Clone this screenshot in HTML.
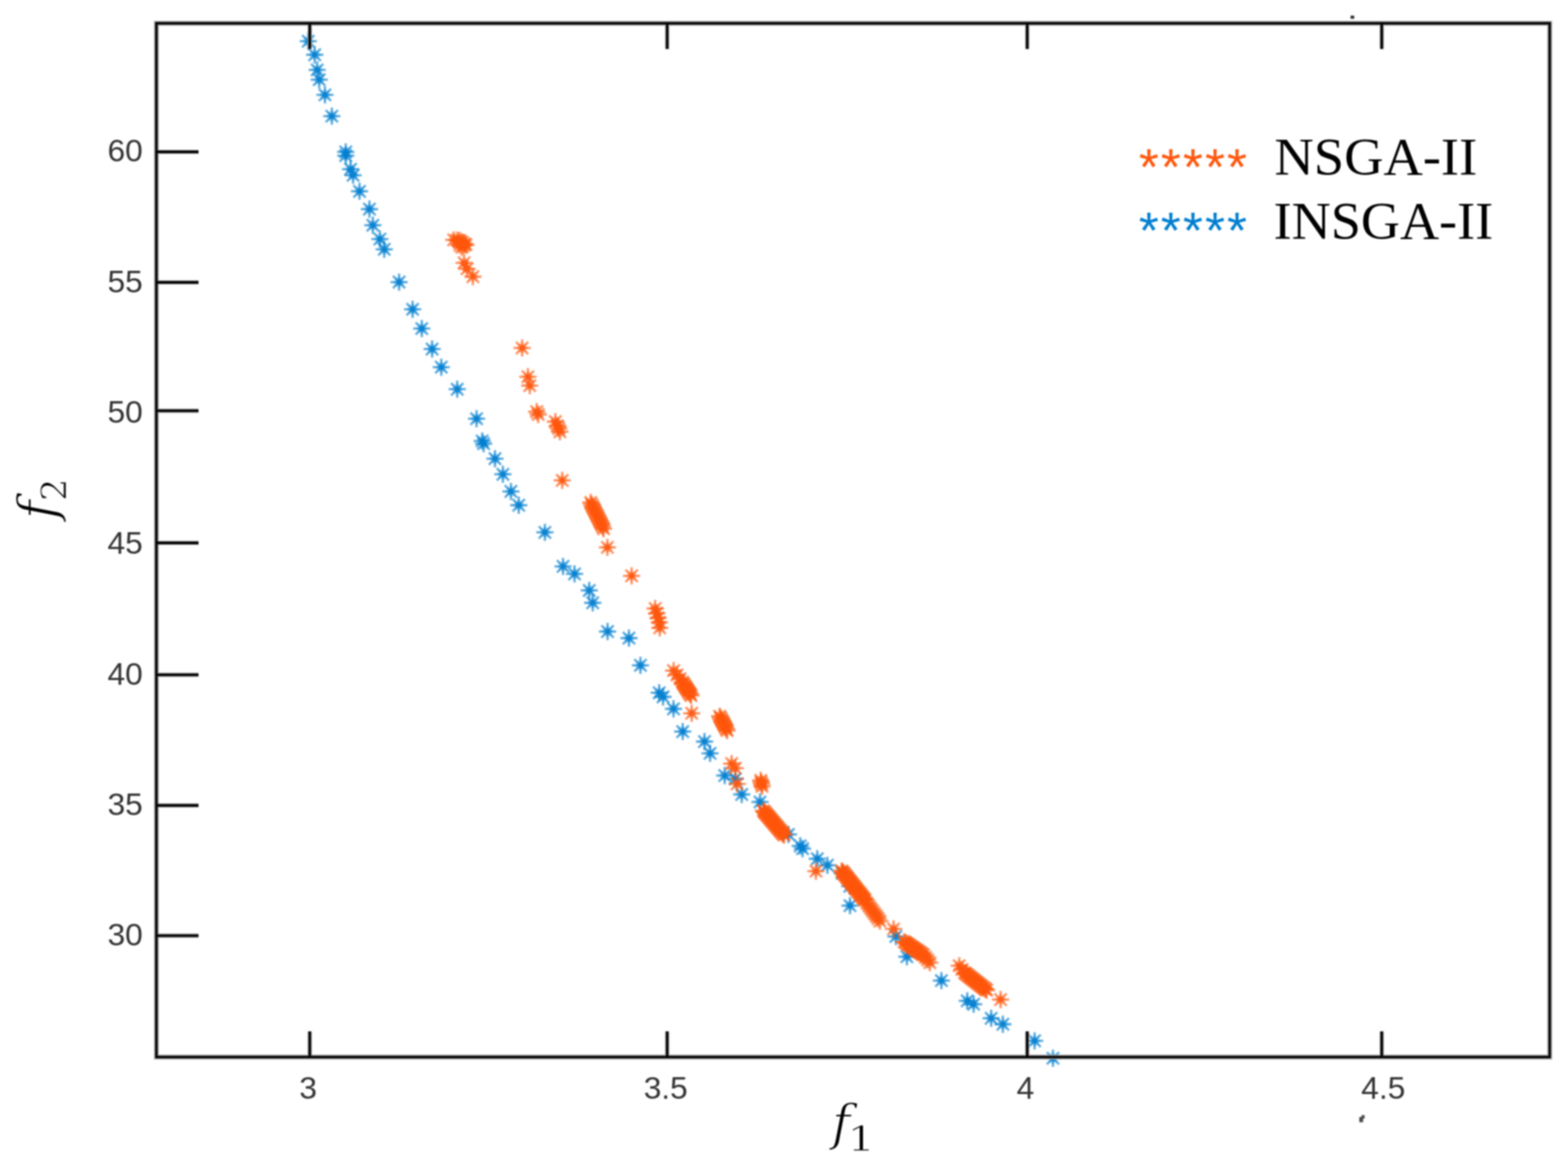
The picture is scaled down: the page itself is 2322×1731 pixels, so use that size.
<!DOCTYPE html>
<html lang="en">
<head>
<meta charset="utf-8">
<style>
html,body{margin:0;padding:0;background:#fff;}
body{width:2322px;height:1731px;overflow:hidden;}
svg{display:block;filter:blur(0.8px);}
.tick{font-family:"Liberation Sans",sans-serif;font-size:47px;fill:#333;}
.leg{font-family:"Liberation Serif",serif;font-size:78px;fill:#000;}
.ast{font-family:"Liberation Sans",sans-serif;font-size:76px;letter-spacing:3.1px;}
.ax{font-family:"DejaVu Serif",serif;font-style:italic;fill:#000;stroke:#fff;stroke-width:1.4px;}
.sub{font-family:"DejaVu Serif",serif;fill:#000;stroke:#fff;stroke-width:1.2px;}
.mk path{stroke-width:3.6px;fill:none;}
.mk .a{stroke-opacity:0.6;}
.mk .b{stroke-opacity:0.45;}
.mk circle{stroke:none;fill-opacity:0.8;}
</style>
</head>
<body>
<svg width="2322" height="1731" viewBox="0 0 2322 1731">
<rect width="2322" height="1731" fill="#fff"/>
<g class="mk" stroke="#007ed0" fill="#007ed0">
<g transform="translate(456.5 61.0)"><path class="a" d="M-12.8 0H12.8M0-12.8V12.8M-9.1-9.1L9.1 9.1M-9.1 9.1L9.1-9.1"/><path class="b" d="M-8 0H8M0-8V8M-5.7-5.7L5.7 5.7M-5.7 5.7L5.7-5.7"/><circle r="4"/></g>
<g transform="translate(466.0 81.1)"><path class="a" d="M-12.8 0H12.8M0-12.8V12.8M-9.1-9.1L9.1 9.1M-9.1 9.1L9.1-9.1"/><path class="b" d="M-8 0H8M0-8V8M-5.7-5.7L5.7 5.7M-5.7 5.7L5.7-5.7"/><circle r="4"/></g>
<g transform="translate(469.7 103.5)"><path class="a" d="M-12.8 0H12.8M0-12.8V12.8M-9.1-9.1L9.1 9.1M-9.1 9.1L9.1-9.1"/><path class="b" d="M-8 0H8M0-8V8M-5.7-5.7L5.7 5.7M-5.7 5.7L5.7-5.7"/><circle r="4"/></g>
<g transform="translate(472.7 118.0)"><path class="a" d="M-12.8 0H12.8M0-12.8V12.8M-9.1-9.1L9.1 9.1M-9.1 9.1L9.1-9.1"/><path class="b" d="M-8 0H8M0-8V8M-5.7-5.7L5.7 5.7M-5.7 5.7L5.7-5.7"/><circle r="4"/></g>
<g transform="translate(481.2 140.5)"><path class="a" d="M-12.8 0H12.8M0-12.8V12.8M-9.1-9.1L9.1 9.1M-9.1 9.1L9.1-9.1"/><path class="b" d="M-8 0H8M0-8V8M-5.7-5.7L5.7 5.7M-5.7 5.7L5.7-5.7"/><circle r="4"/></g>
<g transform="translate(491.4 172.0)"><path class="a" d="M-12.8 0H12.8M0-12.8V12.8M-9.1-9.1L9.1 9.1M-9.1 9.1L9.1-9.1"/><path class="b" d="M-8 0H8M0-8V8M-5.7-5.7L5.7 5.7M-5.7 5.7L5.7-5.7"/><circle r="4"/></g>
<g transform="translate(512.0 225.0)"><path class="a" d="M-12.8 0H12.8M0-12.8V12.8M-9.1-9.1L9.1 9.1M-9.1 9.1L9.1-9.1"/><path class="b" d="M-8 0H8M0-8V8M-5.7-5.7L5.7 5.7M-5.7 5.7L5.7-5.7"/><circle r="4"/></g>
<g transform="translate(512.0 230.5)"><path class="a" d="M-12.8 0H12.8M0-12.8V12.8M-9.1-9.1L9.1 9.1M-9.1 9.1L9.1-9.1"/><path class="b" d="M-8 0H8M0-8V8M-5.7-5.7L5.7 5.7M-5.7 5.7L5.7-5.7"/><circle r="4"/></g>
<g transform="translate(519.2 250.5)"><path class="a" d="M-12.8 0H12.8M0-12.8V12.8M-9.1-9.1L9.1 9.1M-9.1 9.1L9.1-9.1"/><path class="b" d="M-8 0H8M0-8V8M-5.7-5.7L5.7 5.7M-5.7 5.7L5.7-5.7"/><circle r="4"/></g>
<g transform="translate(522.9 259.5)"><path class="a" d="M-12.8 0H12.8M0-12.8V12.8M-9.1-9.1L9.1 9.1M-9.1 9.1L9.1-9.1"/><path class="b" d="M-8 0H8M0-8V8M-5.7-5.7L5.7 5.7M-5.7 5.7L5.7-5.7"/><circle r="4"/></g>
<g transform="translate(532.4 283.3)"><path class="a" d="M-12.8 0H12.8M0-12.8V12.8M-9.1-9.1L9.1 9.1M-9.1 9.1L9.1-9.1"/><path class="b" d="M-8 0H8M0-8V8M-5.7-5.7L5.7 5.7M-5.7 5.7L5.7-5.7"/><circle r="4"/></g>
<g transform="translate(547.1 309.6)"><path class="a" d="M-12.8 0H12.8M0-12.8V12.8M-9.1-9.1L9.1 9.1M-9.1 9.1L9.1-9.1"/><path class="b" d="M-8 0H8M0-8V8M-5.7-5.7L5.7 5.7M-5.7 5.7L5.7-5.7"/><circle r="4"/></g>
<g transform="translate(552.1 333.5)"><path class="a" d="M-12.8 0H12.8M0-12.8V12.8M-9.1-9.1L9.1 9.1M-9.1 9.1L9.1-9.1"/><path class="b" d="M-8 0H8M0-8V8M-5.7-5.7L5.7 5.7M-5.7 5.7L5.7-5.7"/><circle r="4"/></g>
<g transform="translate(562.6 354.0)"><path class="a" d="M-12.8 0H12.8M0-12.8V12.8M-9.1-9.1L9.1 9.1M-9.1 9.1L9.1-9.1"/><path class="b" d="M-8 0H8M0-8V8M-5.7-5.7L5.7 5.7M-5.7 5.7L5.7-5.7"/><circle r="4"/></g>
<g transform="translate(569.0 369.2)"><path class="a" d="M-12.8 0H12.8M0-12.8V12.8M-9.1-9.1L9.1 9.1M-9.1 9.1L9.1-9.1"/><path class="b" d="M-8 0H8M0-8V8M-5.7-5.7L5.7 5.7M-5.7 5.7L5.7-5.7"/><circle r="4"/></g>
<g transform="translate(591.0 417.7)"><path class="a" d="M-12.8 0H12.8M0-12.8V12.8M-9.1-9.1L9.1 9.1M-9.1 9.1L9.1-9.1"/><path class="b" d="M-8 0H8M0-8V8M-5.7-5.7L5.7 5.7M-5.7 5.7L5.7-5.7"/><circle r="4"/></g>
<g transform="translate(611.0 458.0)"><path class="a" d="M-12.8 0H12.8M0-12.8V12.8M-9.1-9.1L9.1 9.1M-9.1 9.1L9.1-9.1"/><path class="b" d="M-8 0H8M0-8V8M-5.7-5.7L5.7 5.7M-5.7 5.7L5.7-5.7"/><circle r="4"/></g>
<g transform="translate(624.6 486.5)"><path class="a" d="M-12.8 0H12.8M0-12.8V12.8M-9.1-9.1L9.1 9.1M-9.1 9.1L9.1-9.1"/><path class="b" d="M-8 0H8M0-8V8M-5.7-5.7L5.7 5.7M-5.7 5.7L5.7-5.7"/><circle r="4"/></g>
<g transform="translate(639.9 516.8)"><path class="a" d="M-12.8 0H12.8M0-12.8V12.8M-9.1-9.1L9.1 9.1M-9.1 9.1L9.1-9.1"/><path class="b" d="M-8 0H8M0-8V8M-5.7-5.7L5.7 5.7M-5.7 5.7L5.7-5.7"/><circle r="4"/></g>
<g transform="translate(653.5 543.7)"><path class="a" d="M-12.8 0H12.8M0-12.8V12.8M-9.1-9.1L9.1 9.1M-9.1 9.1L9.1-9.1"/><path class="b" d="M-8 0H8M0-8V8M-5.7-5.7L5.7 5.7M-5.7 5.7L5.7-5.7"/><circle r="4"/></g>
<g transform="translate(677.1 576.3)"><path class="a" d="M-12.8 0H12.8M0-12.8V12.8M-9.1-9.1L9.1 9.1M-9.1 9.1L9.1-9.1"/><path class="b" d="M-8 0H8M0-8V8M-5.7-5.7L5.7 5.7M-5.7 5.7L5.7-5.7"/><circle r="4"/></g>
<g transform="translate(705.7 620.0)"><path class="a" d="M-12.8 0H12.8M0-12.8V12.8M-9.1-9.1L9.1 9.1M-9.1 9.1L9.1-9.1"/><path class="b" d="M-8 0H8M0-8V8M-5.7-5.7L5.7 5.7M-5.7 5.7L5.7-5.7"/><circle r="4"/></g>
<g transform="translate(714.1 653.0)"><path class="a" d="M-12.8 0H12.8M0-12.8V12.8M-9.1-9.1L9.1 9.1M-9.1 9.1L9.1-9.1"/><path class="b" d="M-8 0H8M0-8V8M-5.7-5.7L5.7 5.7M-5.7 5.7L5.7-5.7"/><circle r="4"/></g>
<g transform="translate(716.2 657.0)"><path class="a" d="M-12.8 0H12.8M0-12.8V12.8M-9.1-9.1L9.1 9.1M-9.1 9.1L9.1-9.1"/><path class="b" d="M-8 0H8M0-8V8M-5.7-5.7L5.7 5.7M-5.7 5.7L5.7-5.7"/><circle r="4"/></g>
<g transform="translate(733.0 679.2)"><path class="a" d="M-12.8 0H12.8M0-12.8V12.8M-9.1-9.1L9.1 9.1M-9.1 9.1L9.1-9.1"/><path class="b" d="M-8 0H8M0-8V8M-5.7-5.7L5.7 5.7M-5.7 5.7L5.7-5.7"/><circle r="4"/></g>
<g transform="translate(744.7 702.3)"><path class="a" d="M-12.8 0H12.8M0-12.8V12.8M-9.1-9.1L9.1 9.1M-9.1 9.1L9.1-9.1"/><path class="b" d="M-8 0H8M0-8V8M-5.7-5.7L5.7 5.7M-5.7 5.7L5.7-5.7"/><circle r="4"/></g>
<g transform="translate(756.6 727.7)"><path class="a" d="M-12.8 0H12.8M0-12.8V12.8M-9.1-9.1L9.1 9.1M-9.1 9.1L9.1-9.1"/><path class="b" d="M-8 0H8M0-8V8M-5.7-5.7L5.7 5.7M-5.7 5.7L5.7-5.7"/><circle r="4"/></g>
<g transform="translate(768.2 748.1)"><path class="a" d="M-12.8 0H12.8M0-12.8V12.8M-9.1-9.1L9.1 9.1M-9.1 9.1L9.1-9.1"/><path class="b" d="M-8 0H8M0-8V8M-5.7-5.7L5.7 5.7M-5.7 5.7L5.7-5.7"/><circle r="4"/></g>
<g transform="translate(806.9 788.3)"><path class="a" d="M-12.8 0H12.8M0-12.8V12.8M-9.1-9.1L9.1 9.1M-9.1 9.1L9.1-9.1"/><path class="b" d="M-8 0H8M0-8V8M-5.7-5.7L5.7 5.7M-5.7 5.7L5.7-5.7"/><circle r="4"/></g>
<g transform="translate(833.8 838.7)"><path class="a" d="M-12.8 0H12.8M0-12.8V12.8M-9.1-9.1L9.1 9.1M-9.1 9.1L9.1-9.1"/><path class="b" d="M-8 0H8M0-8V8M-5.7-5.7L5.7 5.7M-5.7 5.7L5.7-5.7"/><circle r="4"/></g>
<g transform="translate(850.8 849.8)"><path class="a" d="M-12.8 0H12.8M0-12.8V12.8M-9.1-9.1L9.1 9.1M-9.1 9.1L9.1-9.1"/><path class="b" d="M-8 0H8M0-8V8M-5.7-5.7L5.7 5.7M-5.7 5.7L5.7-5.7"/><circle r="4"/></g>
<g transform="translate(872.6 874.3)"><path class="a" d="M-12.8 0H12.8M0-12.8V12.8M-9.1-9.1L9.1 9.1M-9.1 9.1L9.1-9.1"/><path class="b" d="M-8 0H8M0-8V8M-5.7-5.7L5.7 5.7M-5.7 5.7L5.7-5.7"/><circle r="4"/></g>
<g transform="translate(877.7 892.6)"><path class="a" d="M-12.8 0H12.8M0-12.8V12.8M-9.1-9.1L9.1 9.1M-9.1 9.1L9.1-9.1"/><path class="b" d="M-8 0H8M0-8V8M-5.7-5.7L5.7 5.7M-5.7 5.7L5.7-5.7"/><circle r="4"/></g>
<g transform="translate(899.7 935.1)"><path class="a" d="M-12.8 0H12.8M0-12.8V12.8M-9.1-9.1L9.1 9.1M-9.1 9.1L9.1-9.1"/><path class="b" d="M-8 0H8M0-8V8M-5.7-5.7L5.7 5.7M-5.7 5.7L5.7-5.7"/><circle r="4"/></g>
<g transform="translate(931.4 944.9)"><path class="a" d="M-12.8 0H12.8M0-12.8V12.8M-9.1-9.1L9.1 9.1M-9.1 9.1L9.1-9.1"/><path class="b" d="M-8 0H8M0-8V8M-5.7-5.7L5.7 5.7M-5.7 5.7L5.7-5.7"/><circle r="4"/></g>
<g transform="translate(948.4 985.2)"><path class="a" d="M-12.8 0H12.8M0-12.8V12.8M-9.1-9.1L9.1 9.1M-9.1 9.1L9.1-9.1"/><path class="b" d="M-8 0H8M0-8V8M-5.7-5.7L5.7 5.7M-5.7 5.7L5.7-5.7"/><circle r="4"/></g>
<g transform="translate(976.2 1025.8)"><path class="a" d="M-12.8 0H12.8M0-12.8V12.8M-9.1-9.1L9.1 9.1M-9.1 9.1L9.1-9.1"/><path class="b" d="M-8 0H8M0-8V8M-5.7-5.7L5.7 5.7M-5.7 5.7L5.7-5.7"/><circle r="4"/></g>
<g transform="translate(981.9 1031.9)"><path class="a" d="M-12.8 0H12.8M0-12.8V12.8M-9.1-9.1L9.1 9.1M-9.1 9.1L9.1-9.1"/><path class="b" d="M-8 0H8M0-8V8M-5.7-5.7L5.7 5.7M-5.7 5.7L5.7-5.7"/><circle r="4"/></g>
<g transform="translate(997.4 1049.6)"><path class="a" d="M-12.8 0H12.8M0-12.8V12.8M-9.1-9.1L9.1 9.1M-9.1 9.1L9.1-9.1"/><path class="b" d="M-8 0H8M0-8V8M-5.7-5.7L5.7 5.7M-5.7 5.7L5.7-5.7"/><circle r="4"/></g>
<g transform="translate(1011.0 1083.3)"><path class="a" d="M-12.8 0H12.8M0-12.8V12.8M-9.1-9.1L9.1 9.1M-9.1 9.1L9.1-9.1"/><path class="b" d="M-8 0H8M0-8V8M-5.7-5.7L5.7 5.7M-5.7 5.7L5.7-5.7"/><circle r="4"/></g>
<g transform="translate(1043.3 1098.1)"><path class="a" d="M-12.8 0H12.8M0-12.8V12.8M-9.1-9.1L9.1 9.1M-9.1 9.1L9.1-9.1"/><path class="b" d="M-8 0H8M0-8V8M-5.7-5.7L5.7 5.7M-5.7 5.7L5.7-5.7"/><circle r="4"/></g>
<g transform="translate(1051.5 1115.5)"><path class="a" d="M-12.8 0H12.8M0-12.8V12.8M-9.1-9.1L9.1 9.1M-9.1 9.1L9.1-9.1"/><path class="b" d="M-8 0H8M0-8V8M-5.7-5.7L5.7 5.7M-5.7 5.7L5.7-5.7"/><circle r="4"/></g>
<g transform="translate(1073.2 1148.4)"><path class="a" d="M-12.8 0H12.8M0-12.8V12.8M-9.1-9.1L9.1 9.1M-9.1 9.1L9.1-9.1"/><path class="b" d="M-8 0H8M0-8V8M-5.7-5.7L5.7 5.7M-5.7 5.7L5.7-5.7"/><circle r="4"/></g>
<g transform="translate(1088.9 1153.2)"><path class="a" d="M-12.8 0H12.8M0-12.8V12.8M-9.1-9.1L9.1 9.1M-9.1 9.1L9.1-9.1"/><path class="b" d="M-8 0H8M0-8V8M-5.7-5.7L5.7 5.7M-5.7 5.7L5.7-5.7"/><circle r="4"/></g>
<g transform="translate(1098.4 1176.4)"><path class="a" d="M-12.8 0H12.8M0-12.8V12.8M-9.1-9.1L9.1 9.1M-9.1 9.1L9.1-9.1"/><path class="b" d="M-8 0H8M0-8V8M-5.7-5.7L5.7 5.7M-5.7 5.7L5.7-5.7"/><circle r="4"/></g>
<g transform="translate(1125.5 1187.5)"><path class="a" d="M-12.8 0H12.8M0-12.8V12.8M-9.1-9.1L9.1 9.1M-9.1 9.1L9.1-9.1"/><path class="b" d="M-8 0H8M0-8V8M-5.7-5.7L5.7 5.7M-5.7 5.7L5.7-5.7"/><circle r="4"/></g>
<g transform="translate(1167.5 1235.5)"><path class="a" d="M-12.8 0H12.8M0-12.8V12.8M-9.1-9.1L9.1 9.1M-9.1 9.1L9.1-9.1"/><path class="b" d="M-8 0H8M0-8V8M-5.7-5.7L5.7 5.7M-5.7 5.7L5.7-5.7"/><circle r="4"/></g>
<g transform="translate(1185.1 1252.6)"><path class="a" d="M-12.8 0H12.8M0-12.8V12.8M-9.1-9.1L9.1 9.1M-9.1 9.1L9.1-9.1"/><path class="b" d="M-8 0H8M0-8V8M-5.7-5.7L5.7 5.7M-5.7 5.7L5.7-5.7"/><circle r="4"/></g>
<g transform="translate(1188.5 1256.6)"><path class="a" d="M-12.8 0H12.8M0-12.8V12.8M-9.1-9.1L9.1 9.1M-9.1 9.1L9.1-9.1"/><path class="b" d="M-8 0H8M0-8V8M-5.7-5.7L5.7 5.7M-5.7 5.7L5.7-5.7"/><circle r="4"/></g>
<g transform="translate(1210.3 1271.6)"><path class="a" d="M-12.8 0H12.8M0-12.8V12.8M-9.1-9.1L9.1 9.1M-9.1 9.1L9.1-9.1"/><path class="b" d="M-8 0H8M0-8V8M-5.7-5.7L5.7 5.7M-5.7 5.7L5.7-5.7"/><circle r="4"/></g>
<g transform="translate(1225.3 1281.2)"><path class="a" d="M-12.8 0H12.8M0-12.8V12.8M-9.1-9.1L9.1 9.1M-9.1 9.1L9.1-9.1"/><path class="b" d="M-8 0H8M0-8V8M-5.7-5.7L5.7 5.7M-5.7 5.7L5.7-5.7"/><circle r="4"/></g>
<g transform="translate(1247.0 1293.0)"><path class="a" d="M-12.8 0H12.8M0-12.8V12.8M-9.1-9.1L9.1 9.1M-9.1 9.1L9.1-9.1"/><path class="b" d="M-8 0H8M0-8V8M-5.7-5.7L5.7 5.7M-5.7 5.7L5.7-5.7"/><circle r="4"/></g>
<g transform="translate(1258.4 1312.3)"><path class="a" d="M-12.8 0H12.8M0-12.8V12.8M-9.1-9.1L9.1 9.1M-9.1 9.1L9.1-9.1"/><path class="b" d="M-8 0H8M0-8V8M-5.7-5.7L5.7 5.7M-5.7 5.7L5.7-5.7"/><circle r="4"/></g>
<g transform="translate(1258.7 1341.0)"><path class="a" d="M-12.8 0H12.8M0-12.8V12.8M-9.1-9.1L9.1 9.1M-9.1 9.1L9.1-9.1"/><path class="b" d="M-8 0H8M0-8V8M-5.7-5.7L5.7 5.7M-5.7 5.7L5.7-5.7"/><circle r="4"/></g>
<g transform="translate(1326.7 1386.7)"><path class="a" d="M-12.8 0H12.8M0-12.8V12.8M-9.1-9.1L9.1 9.1M-9.1 9.1L9.1-9.1"/><path class="b" d="M-8 0H8M0-8V8M-5.7-5.7L5.7 5.7M-5.7 5.7L5.7-5.7"/><circle r="4"/></g>
<g transform="translate(1343.0 1416.6)"><path class="a" d="M-12.8 0H12.8M0-12.8V12.8M-9.1-9.1L9.1 9.1M-9.1 9.1L9.1-9.1"/><path class="b" d="M-8 0H8M0-8V8M-5.7-5.7L5.7 5.7M-5.7 5.7L5.7-5.7"/><circle r="4"/></g>
<g transform="translate(1394.1 1452.0)"><path class="a" d="M-12.8 0H12.8M0-12.8V12.8M-9.1-9.1L9.1 9.1M-9.1 9.1L9.1-9.1"/><path class="b" d="M-8 0H8M0-8V8M-5.7-5.7L5.7 5.7M-5.7 5.7L5.7-5.7"/><circle r="4"/></g>
<g transform="translate(1432.4 1482.0)"><path class="a" d="M-12.8 0H12.8M0-12.8V12.8M-9.1-9.1L9.1 9.1M-9.1 9.1L9.1-9.1"/><path class="b" d="M-8 0H8M0-8V8M-5.7-5.7L5.7 5.7M-5.7 5.7L5.7-5.7"/><circle r="4"/></g>
<g transform="translate(1441.8 1487.0)"><path class="a" d="M-12.8 0H12.8M0-12.8V12.8M-9.1-9.1L9.1 9.1M-9.1 9.1L9.1-9.1"/><path class="b" d="M-8 0H8M0-8V8M-5.7-5.7L5.7 5.7M-5.7 5.7L5.7-5.7"/><circle r="4"/></g>
<g transform="translate(1467.8 1507.8)"><path class="a" d="M-12.8 0H12.8M0-12.8V12.8M-9.1-9.1L9.1 9.1M-9.1 9.1L9.1-9.1"/><path class="b" d="M-8 0H8M0-8V8M-5.7-5.7L5.7 5.7M-5.7 5.7L5.7-5.7"/><circle r="4"/></g>
<g transform="translate(1485.1 1516.6)"><path class="a" d="M-12.8 0H12.8M0-12.8V12.8M-9.1-9.1L9.1 9.1M-9.1 9.1L9.1-9.1"/><path class="b" d="M-8 0H8M0-8V8M-5.7-5.7L5.7 5.7M-5.7 5.7L5.7-5.7"/><circle r="4"/></g>
<g transform="translate(1532.1 1541.2)"><path class="a" d="M-12.8 0H12.8M0-12.8V12.8M-9.1-9.1L9.1 9.1M-9.1 9.1L9.1-9.1"/><path class="b" d="M-8 0H8M0-8V8M-5.7-5.7L5.7 5.7M-5.7 5.7L5.7-5.7"/><circle r="4"/></g>
<g transform="translate(1559.3 1567.0)"><path class="a" d="M-12.8 0H12.8M0-12.8V12.8M-9.1-9.1L9.1 9.1M-9.1 9.1L9.1-9.1"/><path class="b" d="M-8 0H8M0-8V8M-5.7-5.7L5.7 5.7M-5.7 5.7L5.7-5.7"/><circle r="4"/></g>
</g>
<g class="mk" stroke="#ff560c" fill="#ff560c">
<g transform="translate(671.9 355.2)"><path class="a" d="M-12.8 0H12.8M0-12.8V12.8M-9.1-9.1L9.1 9.1M-9.1 9.1L9.1-9.1"/><path class="b" d="M-8 0H8M0-8V8M-5.7-5.7L5.7 5.7M-5.7 5.7L5.7-5.7"/><circle r="4"/></g>
<g transform="translate(677.0 355.5)"><path class="a" d="M-12.8 0H12.8M0-12.8V12.8M-9.1-9.1L9.1 9.1M-9.1 9.1L9.1-9.1"/><path class="b" d="M-8 0H8M0-8V8M-5.7-5.7L5.7 5.7M-5.7 5.7L5.7-5.7"/><circle r="4"/></g>
<g transform="translate(680.7 356.0)"><path class="a" d="M-12.8 0H12.8M0-12.8V12.8M-9.1-9.1L9.1 9.1M-9.1 9.1L9.1-9.1"/><path class="b" d="M-8 0H8M0-8V8M-5.7-5.7L5.7 5.7M-5.7 5.7L5.7-5.7"/><circle r="4"/></g>
<g transform="translate(684.5 358.5)"><path class="a" d="M-12.8 0H12.8M0-12.8V12.8M-9.1-9.1L9.1 9.1M-9.1 9.1L9.1-9.1"/><path class="b" d="M-8 0H8M0-8V8M-5.7-5.7L5.7 5.7M-5.7 5.7L5.7-5.7"/><circle r="4"/></g>
<g transform="translate(688.0 361.0)"><path class="a" d="M-12.8 0H12.8M0-12.8V12.8M-9.1-9.1L9.1 9.1M-9.1 9.1L9.1-9.1"/><path class="b" d="M-8 0H8M0-8V8M-5.7-5.7L5.7 5.7M-5.7 5.7L5.7-5.7"/><circle r="4"/></g>
<g transform="translate(690.0 362.5)"><path class="a" d="M-12.8 0H12.8M0-12.8V12.8M-9.1-9.1L9.1 9.1M-9.1 9.1L9.1-9.1"/><path class="b" d="M-8 0H8M0-8V8M-5.7-5.7L5.7 5.7M-5.7 5.7L5.7-5.7"/><circle r="4"/></g>
<g transform="translate(681.0 363.0)"><path class="a" d="M-12.8 0H12.8M0-12.8V12.8M-9.1-9.1L9.1 9.1M-9.1 9.1L9.1-9.1"/><path class="b" d="M-8 0H8M0-8V8M-5.7-5.7L5.7 5.7M-5.7 5.7L5.7-5.7"/><circle r="4"/></g>
<g transform="translate(684.0 366.0)"><path class="a" d="M-12.8 0H12.8M0-12.8V12.8M-9.1-9.1L9.1 9.1M-9.1 9.1L9.1-9.1"/><path class="b" d="M-8 0H8M0-8V8M-5.7-5.7L5.7 5.7M-5.7 5.7L5.7-5.7"/><circle r="4"/></g>
<g transform="translate(686.5 363.5)"><path class="a" d="M-12.8 0H12.8M0-12.8V12.8M-9.1-9.1L9.1 9.1M-9.1 9.1L9.1-9.1"/><path class="b" d="M-8 0H8M0-8V8M-5.7-5.7L5.7 5.7M-5.7 5.7L5.7-5.7"/><circle r="4"/></g>
<g transform="translate(687.3 389.2)"><path class="a" d="M-12.8 0H12.8M0-12.8V12.8M-9.1-9.1L9.1 9.1M-9.1 9.1L9.1-9.1"/><path class="b" d="M-8 0H8M0-8V8M-5.7-5.7L5.7 5.7M-5.7 5.7L5.7-5.7"/><circle r="4"/></g>
<g transform="translate(691.6 398.0)"><path class="a" d="M-12.8 0H12.8M0-12.8V12.8M-9.1-9.1L9.1 9.1M-9.1 9.1L9.1-9.1"/><path class="b" d="M-8 0H8M0-8V8M-5.7-5.7L5.7 5.7M-5.7 5.7L5.7-5.7"/><circle r="4"/></g>
<g transform="translate(700.3 409.6)"><path class="a" d="M-12.8 0H12.8M0-12.8V12.8M-9.1-9.1L9.1 9.1M-9.1 9.1L9.1-9.1"/><path class="b" d="M-8 0H8M0-8V8M-5.7-5.7L5.7 5.7M-5.7 5.7L5.7-5.7"/><circle r="4"/></g>
<g transform="translate(773.2 515.3)"><path class="a" d="M-12.8 0H12.8M0-12.8V12.8M-9.1-9.1L9.1 9.1M-9.1 9.1L9.1-9.1"/><path class="b" d="M-8 0H8M0-8V8M-5.7-5.7L5.7 5.7M-5.7 5.7L5.7-5.7"/><circle r="4"/></g>
<g transform="translate(781.8 557.9)"><path class="a" d="M-12.8 0H12.8M0-12.8V12.8M-9.1-9.1L9.1 9.1M-9.1 9.1L9.1-9.1"/><path class="b" d="M-8 0H8M0-8V8M-5.7-5.7L5.7 5.7M-5.7 5.7L5.7-5.7"/><circle r="4"/></g>
<g transform="translate(784.5 571.0)"><path class="a" d="M-12.8 0H12.8M0-12.8V12.8M-9.1-9.1L9.1 9.1M-9.1 9.1L9.1-9.1"/><path class="b" d="M-8 0H8M0-8V8M-5.7-5.7L5.7 5.7M-5.7 5.7L5.7-5.7"/><circle r="4"/></g>
<g transform="translate(794.8 609.6)"><path class="a" d="M-12.8 0H12.8M0-12.8V12.8M-9.1-9.1L9.1 9.1M-9.1 9.1L9.1-9.1"/><path class="b" d="M-8 0H8M0-8V8M-5.7-5.7L5.7 5.7M-5.7 5.7L5.7-5.7"/><circle r="4"/></g>
<g transform="translate(797.0 613.6)"><path class="a" d="M-12.8 0H12.8M0-12.8V12.8M-9.1-9.1L9.1 9.1M-9.1 9.1L9.1-9.1"/><path class="b" d="M-8 0H8M0-8V8M-5.7-5.7L5.7 5.7M-5.7 5.7L5.7-5.7"/><circle r="4"/></g>
<g transform="translate(822.4 624.4)"><path class="a" d="M-12.8 0H12.8M0-12.8V12.8M-9.1-9.1L9.1 9.1M-9.1 9.1L9.1-9.1"/><path class="b" d="M-8 0H8M0-8V8M-5.7-5.7L5.7 5.7M-5.7 5.7L5.7-5.7"/><circle r="4"/></g>
<g transform="translate(825.5 630.5)"><path class="a" d="M-12.8 0H12.8M0-12.8V12.8M-9.1-9.1L9.1 9.1M-9.1 9.1L9.1-9.1"/><path class="b" d="M-8 0H8M0-8V8M-5.7-5.7L5.7 5.7M-5.7 5.7L5.7-5.7"/><circle r="4"/></g>
<g transform="translate(827.5 634.5)"><path class="a" d="M-12.8 0H12.8M0-12.8V12.8M-9.1-9.1L9.1 9.1M-9.1 9.1L9.1-9.1"/><path class="b" d="M-8 0H8M0-8V8M-5.7-5.7L5.7 5.7M-5.7 5.7L5.7-5.7"/><circle r="4"/></g>
<g transform="translate(829.2 639.3)"><path class="a" d="M-12.8 0H12.8M0-12.8V12.8M-9.1-9.1L9.1 9.1M-9.1 9.1L9.1-9.1"/><path class="b" d="M-8 0H8M0-8V8M-5.7-5.7L5.7 5.7M-5.7 5.7L5.7-5.7"/><circle r="4"/></g>
<g transform="translate(832.6 711.3)"><path class="a" d="M-12.8 0H12.8M0-12.8V12.8M-9.1-9.1L9.1 9.1M-9.1 9.1L9.1-9.1"/><path class="b" d="M-8 0H8M0-8V8M-5.7-5.7L5.7 5.7M-5.7 5.7L5.7-5.7"/><circle r="4"/></g>
<g transform="translate(874.7 744.0)"><path class="a" d="M-12.8 0H12.8M0-12.8V12.8M-9.1-9.1L9.1 9.1M-9.1 9.1L9.1-9.1"/><path class="b" d="M-8 0H8M0-8V8M-5.7-5.7L5.7 5.7M-5.7 5.7L5.7-5.7"/><circle r="4"/></g>
<g transform="translate(876.2 747.0)"><path class="a" d="M-12.8 0H12.8M0-12.8V12.8M-9.1-9.1L9.1 9.1M-9.1 9.1L9.1-9.1"/><path class="b" d="M-8 0H8M0-8V8M-5.7-5.7L5.7 5.7M-5.7 5.7L5.7-5.7"/><circle r="4"/></g>
<g transform="translate(877.6 750.0)"><path class="a" d="M-12.8 0H12.8M0-12.8V12.8M-9.1-9.1L9.1 9.1M-9.1 9.1L9.1-9.1"/><path class="b" d="M-8 0H8M0-8V8M-5.7-5.7L5.7 5.7M-5.7 5.7L5.7-5.7"/><circle r="4"/></g>
<g transform="translate(879.1 753.0)"><path class="a" d="M-12.8 0H12.8M0-12.8V12.8M-9.1-9.1L9.1 9.1M-9.1 9.1L9.1-9.1"/><path class="b" d="M-8 0H8M0-8V8M-5.7-5.7L5.7 5.7M-5.7 5.7L5.7-5.7"/><circle r="4"/></g>
<g transform="translate(880.6 756.0)"><path class="a" d="M-12.8 0H12.8M0-12.8V12.8M-9.1-9.1L9.1 9.1M-9.1 9.1L9.1-9.1"/><path class="b" d="M-8 0H8M0-8V8M-5.7-5.7L5.7 5.7M-5.7 5.7L5.7-5.7"/><circle r="4"/></g>
<g transform="translate(882.0 759.0)"><path class="a" d="M-12.8 0H12.8M0-12.8V12.8M-9.1-9.1L9.1 9.1M-9.1 9.1L9.1-9.1"/><path class="b" d="M-8 0H8M0-8V8M-5.7-5.7L5.7 5.7M-5.7 5.7L5.7-5.7"/><circle r="4"/></g>
<g transform="translate(883.5 762.0)"><path class="a" d="M-12.8 0H12.8M0-12.8V12.8M-9.1-9.1L9.1 9.1M-9.1 9.1L9.1-9.1"/><path class="b" d="M-8 0H8M0-8V8M-5.7-5.7L5.7 5.7M-5.7 5.7L5.7-5.7"/><circle r="4"/></g>
<g transform="translate(885.0 765.0)"><path class="a" d="M-12.8 0H12.8M0-12.8V12.8M-9.1-9.1L9.1 9.1M-9.1 9.1L9.1-9.1"/><path class="b" d="M-8 0H8M0-8V8M-5.7-5.7L5.7 5.7M-5.7 5.7L5.7-5.7"/><circle r="4"/></g>
<g transform="translate(886.5 768.0)"><path class="a" d="M-12.8 0H12.8M0-12.8V12.8M-9.1-9.1L9.1 9.1M-9.1 9.1L9.1-9.1"/><path class="b" d="M-8 0H8M0-8V8M-5.7-5.7L5.7 5.7M-5.7 5.7L5.7-5.7"/><circle r="4"/></g>
<g transform="translate(887.9 771.0)"><path class="a" d="M-12.8 0H12.8M0-12.8V12.8M-9.1-9.1L9.1 9.1M-9.1 9.1L9.1-9.1"/><path class="b" d="M-8 0H8M0-8V8M-5.7-5.7L5.7 5.7M-5.7 5.7L5.7-5.7"/><circle r="4"/></g>
<g transform="translate(889.4 774.0)"><path class="a" d="M-12.8 0H12.8M0-12.8V12.8M-9.1-9.1L9.1 9.1M-9.1 9.1L9.1-9.1"/><path class="b" d="M-8 0H8M0-8V8M-5.7-5.7L5.7 5.7M-5.7 5.7L5.7-5.7"/><circle r="4"/></g>
<g transform="translate(890.9 777.0)"><path class="a" d="M-12.8 0H12.8M0-12.8V12.8M-9.1-9.1L9.1 9.1M-9.1 9.1L9.1-9.1"/><path class="b" d="M-8 0H8M0-8V8M-5.7-5.7L5.7 5.7M-5.7 5.7L5.7-5.7"/><circle r="4"/></g>
<g transform="translate(892.3 780.0)"><path class="a" d="M-12.8 0H12.8M0-12.8V12.8M-9.1-9.1L9.1 9.1M-9.1 9.1L9.1-9.1"/><path class="b" d="M-8 0H8M0-8V8M-5.7-5.7L5.7 5.7M-5.7 5.7L5.7-5.7"/><circle r="4"/></g>
<g transform="translate(893.8 783.0)"><path class="a" d="M-12.8 0H12.8M0-12.8V12.8M-9.1-9.1L9.1 9.1M-9.1 9.1L9.1-9.1"/><path class="b" d="M-8 0H8M0-8V8M-5.7-5.7L5.7 5.7M-5.7 5.7L5.7-5.7"/><circle r="4"/></g>
<g transform="translate(899.5 810.5)"><path class="a" d="M-12.8 0H12.8M0-12.8V12.8M-9.1-9.1L9.1 9.1M-9.1 9.1L9.1-9.1"/><path class="b" d="M-8 0H8M0-8V8M-5.7-5.7L5.7 5.7M-5.7 5.7L5.7-5.7"/><circle r="4"/></g>
<g transform="translate(935.3 852.7)"><path class="a" d="M-12.8 0H12.8M0-12.8V12.8M-9.1-9.1L9.1 9.1M-9.1 9.1L9.1-9.1"/><path class="b" d="M-8 0H8M0-8V8M-5.7-5.7L5.7 5.7M-5.7 5.7L5.7-5.7"/><circle r="4"/></g>
<g transform="translate(970.2 901.1)"><path class="a" d="M-12.8 0H12.8M0-12.8V12.8M-9.1-9.1L9.1 9.1M-9.1 9.1L9.1-9.1"/><path class="b" d="M-8 0H8M0-8V8M-5.7-5.7L5.7 5.7M-5.7 5.7L5.7-5.7"/><circle r="4"/></g>
<g transform="translate(972.5 908.0)"><path class="a" d="M-12.8 0H12.8M0-12.8V12.8M-9.1-9.1L9.1 9.1M-9.1 9.1L9.1-9.1"/><path class="b" d="M-8 0H8M0-8V8M-5.7-5.7L5.7 5.7M-5.7 5.7L5.7-5.7"/><circle r="4"/></g>
<g transform="translate(974.5 915.0)"><path class="a" d="M-12.8 0H12.8M0-12.8V12.8M-9.1-9.1L9.1 9.1M-9.1 9.1L9.1-9.1"/><path class="b" d="M-8 0H8M0-8V8M-5.7-5.7L5.7 5.7M-5.7 5.7L5.7-5.7"/><circle r="4"/></g>
<g transform="translate(976.5 921.5)"><path class="a" d="M-12.8 0H12.8M0-12.8V12.8M-9.1-9.1L9.1 9.1M-9.1 9.1L9.1-9.1"/><path class="b" d="M-8 0H8M0-8V8M-5.7-5.7L5.7 5.7M-5.7 5.7L5.7-5.7"/><circle r="4"/></g>
<g transform="translate(977.0 929.7)"><path class="a" d="M-12.8 0H12.8M0-12.8V12.8M-9.1-9.1L9.1 9.1M-9.1 9.1L9.1-9.1"/><path class="b" d="M-8 0H8M0-8V8M-5.7-5.7L5.7 5.7M-5.7 5.7L5.7-5.7"/><circle r="4"/></g>
<g transform="translate(997.5 993.0)"><path class="a" d="M-12.8 0H12.8M0-12.8V12.8M-9.1-9.1L9.1 9.1M-9.1 9.1L9.1-9.1"/><path class="b" d="M-8 0H8M0-8V8M-5.7-5.7L5.7 5.7M-5.7 5.7L5.7-5.7"/><circle r="4"/></g>
<g transform="translate(1002.5 999.5)"><path class="a" d="M-12.8 0H12.8M0-12.8V12.8M-9.1-9.1L9.1 9.1M-9.1 9.1L9.1-9.1"/><path class="b" d="M-8 0H8M0-8V8M-5.7-5.7L5.7 5.7M-5.7 5.7L5.7-5.7"/><circle r="4"/></g>
<g transform="translate(1007.0 1005.0)"><path class="a" d="M-12.8 0H12.8M0-12.8V12.8M-9.1-9.1L9.1 9.1M-9.1 9.1L9.1-9.1"/><path class="b" d="M-8 0H8M0-8V8M-5.7-5.7L5.7 5.7M-5.7 5.7L5.7-5.7"/><circle r="4"/></g>
<g transform="translate(1010.5 1010.0)"><path class="a" d="M-12.8 0H12.8M0-12.8V12.8M-9.1-9.1L9.1 9.1M-9.1 9.1L9.1-9.1"/><path class="b" d="M-8 0H8M0-8V8M-5.7-5.7L5.7 5.7M-5.7 5.7L5.7-5.7"/><circle r="4"/></g>
<g transform="translate(1011.8 1012.0)"><path class="a" d="M-12.8 0H12.8M0-12.8V12.8M-9.1-9.1L9.1 9.1M-9.1 9.1L9.1-9.1"/><path class="b" d="M-8 0H8M0-8V8M-5.7-5.7L5.7 5.7M-5.7 5.7L5.7-5.7"/><circle r="4"/></g>
<g transform="translate(1013.1 1014.0)"><path class="a" d="M-12.8 0H12.8M0-12.8V12.8M-9.1-9.1L9.1 9.1M-9.1 9.1L9.1-9.1"/><path class="b" d="M-8 0H8M0-8V8M-5.7-5.7L5.7 5.7M-5.7 5.7L5.7-5.7"/><circle r="4"/></g>
<g transform="translate(1014.3 1015.9)"><path class="a" d="M-12.8 0H12.8M0-12.8V12.8M-9.1-9.1L9.1 9.1M-9.1 9.1L9.1-9.1"/><path class="b" d="M-8 0H8M0-8V8M-5.7-5.7L5.7 5.7M-5.7 5.7L5.7-5.7"/><circle r="4"/></g>
<g transform="translate(1015.6 1017.9)"><path class="a" d="M-12.8 0H12.8M0-12.8V12.8M-9.1-9.1L9.1 9.1M-9.1 9.1L9.1-9.1"/><path class="b" d="M-8 0H8M0-8V8M-5.7-5.7L5.7 5.7M-5.7 5.7L5.7-5.7"/><circle r="4"/></g>
<g transform="translate(1016.9 1019.9)"><path class="a" d="M-12.8 0H12.8M0-12.8V12.8M-9.1-9.1L9.1 9.1M-9.1 9.1L9.1-9.1"/><path class="b" d="M-8 0H8M0-8V8M-5.7-5.7L5.7 5.7M-5.7 5.7L5.7-5.7"/><circle r="4"/></g>
<g transform="translate(1018.2 1021.9)"><path class="a" d="M-12.8 0H12.8M0-12.8V12.8M-9.1-9.1L9.1 9.1M-9.1 9.1L9.1-9.1"/><path class="b" d="M-8 0H8M0-8V8M-5.7-5.7L5.7 5.7M-5.7 5.7L5.7-5.7"/><circle r="4"/></g>
<g transform="translate(1019.5 1023.9)"><path class="a" d="M-12.8 0H12.8M0-12.8V12.8M-9.1-9.1L9.1 9.1M-9.1 9.1L9.1-9.1"/><path class="b" d="M-8 0H8M0-8V8M-5.7-5.7L5.7 5.7M-5.7 5.7L5.7-5.7"/><circle r="4"/></g>
<g transform="translate(1020.7 1025.8)"><path class="a" d="M-12.8 0H12.8M0-12.8V12.8M-9.1-9.1L9.1 9.1M-9.1 9.1L9.1-9.1"/><path class="b" d="M-8 0H8M0-8V8M-5.7-5.7L5.7 5.7M-5.7 5.7L5.7-5.7"/><circle r="4"/></g>
<g transform="translate(1022.0 1027.8)"><path class="a" d="M-12.8 0H12.8M0-12.8V12.8M-9.1-9.1L9.1 9.1M-9.1 9.1L9.1-9.1"/><path class="b" d="M-8 0H8M0-8V8M-5.7-5.7L5.7 5.7M-5.7 5.7L5.7-5.7"/><circle r="4"/></g>
<g transform="translate(1023.3 1029.8)"><path class="a" d="M-12.8 0H12.8M0-12.8V12.8M-9.1-9.1L9.1 9.1M-9.1 9.1L9.1-9.1"/><path class="b" d="M-8 0H8M0-8V8M-5.7-5.7L5.7 5.7M-5.7 5.7L5.7-5.7"/><circle r="4"/></g>
<g transform="translate(1024.3 1056.2)"><path class="a" d="M-12.8 0H12.8M0-12.8V12.8M-9.1-9.1L9.1 9.1M-9.1 9.1L9.1-9.1"/><path class="b" d="M-8 0H8M0-8V8M-5.7-5.7L5.7 5.7M-5.7 5.7L5.7-5.7"/><circle r="4"/></g>
<g transform="translate(1065.7 1060.5)"><path class="a" d="M-12.8 0H12.8M0-12.8V12.8M-9.1-9.1L9.1 9.1M-9.1 9.1L9.1-9.1"/><path class="b" d="M-8 0H8M0-8V8M-5.7-5.7L5.7 5.7M-5.7 5.7L5.7-5.7"/><circle r="4"/></g>
<g transform="translate(1066.9 1062.9)"><path class="a" d="M-12.8 0H12.8M0-12.8V12.8M-9.1-9.1L9.1 9.1M-9.1 9.1L9.1-9.1"/><path class="b" d="M-8 0H8M0-8V8M-5.7-5.7L5.7 5.7M-5.7 5.7L5.7-5.7"/><circle r="4"/></g>
<g transform="translate(1068.1 1065.2)"><path class="a" d="M-12.8 0H12.8M0-12.8V12.8M-9.1-9.1L9.1 9.1M-9.1 9.1L9.1-9.1"/><path class="b" d="M-8 0H8M0-8V8M-5.7-5.7L5.7 5.7M-5.7 5.7L5.7-5.7"/><circle r="4"/></g>
<g transform="translate(1069.4 1067.6)"><path class="a" d="M-12.8 0H12.8M0-12.8V12.8M-9.1-9.1L9.1 9.1M-9.1 9.1L9.1-9.1"/><path class="b" d="M-8 0H8M0-8V8M-5.7-5.7L5.7 5.7M-5.7 5.7L5.7-5.7"/><circle r="4"/></g>
<g transform="translate(1070.6 1069.9)"><path class="a" d="M-12.8 0H12.8M0-12.8V12.8M-9.1-9.1L9.1 9.1M-9.1 9.1L9.1-9.1"/><path class="b" d="M-8 0H8M0-8V8M-5.7-5.7L5.7 5.7M-5.7 5.7L5.7-5.7"/><circle r="4"/></g>
<g transform="translate(1071.8 1072.3)"><path class="a" d="M-12.8 0H12.8M0-12.8V12.8M-9.1-9.1L9.1 9.1M-9.1 9.1L9.1-9.1"/><path class="b" d="M-8 0H8M0-8V8M-5.7-5.7L5.7 5.7M-5.7 5.7L5.7-5.7"/><circle r="4"/></g>
<g transform="translate(1073.0 1074.6)"><path class="a" d="M-12.8 0H12.8M0-12.8V12.8M-9.1-9.1L9.1 9.1M-9.1 9.1L9.1-9.1"/><path class="b" d="M-8 0H8M0-8V8M-5.7-5.7L5.7 5.7M-5.7 5.7L5.7-5.7"/><circle r="4"/></g>
<g transform="translate(1074.3 1077.0)"><path class="a" d="M-12.8 0H12.8M0-12.8V12.8M-9.1-9.1L9.1 9.1M-9.1 9.1L9.1-9.1"/><path class="b" d="M-8 0H8M0-8V8M-5.7-5.7L5.7 5.7M-5.7 5.7L5.7-5.7"/><circle r="4"/></g>
<g transform="translate(1075.5 1079.3)"><path class="a" d="M-12.8 0H12.8M0-12.8V12.8M-9.1-9.1L9.1 9.1M-9.1 9.1L9.1-9.1"/><path class="b" d="M-8 0H8M0-8V8M-5.7-5.7L5.7 5.7M-5.7 5.7L5.7-5.7"/><circle r="4"/></g>
<g transform="translate(1076.7 1081.7)"><path class="a" d="M-12.8 0H12.8M0-12.8V12.8M-9.1-9.1L9.1 9.1M-9.1 9.1L9.1-9.1"/><path class="b" d="M-8 0H8M0-8V8M-5.7-5.7L5.7 5.7M-5.7 5.7L5.7-5.7"/><circle r="4"/></g>
<g transform="translate(1083.5 1130.7)"><path class="a" d="M-12.8 0H12.8M0-12.8V12.8M-9.1-9.1L9.1 9.1M-9.1 9.1L9.1-9.1"/><path class="b" d="M-8 0H8M0-8V8M-5.7-5.7L5.7 5.7M-5.7 5.7L5.7-5.7"/><circle r="4"/></g>
<g transform="translate(1088.9 1137.5)"><path class="a" d="M-12.8 0H12.8M0-12.8V12.8M-9.1-9.1L9.1 9.1M-9.1 9.1L9.1-9.1"/><path class="b" d="M-8 0H8M0-8V8M-5.7-5.7L5.7 5.7M-5.7 5.7L5.7-5.7"/><circle r="4"/></g>
<g transform="translate(1091.6 1160.7)"><path class="a" d="M-12.8 0H12.8M0-12.8V12.8M-9.1-9.1L9.1 9.1M-9.1 9.1L9.1-9.1"/><path class="b" d="M-8 0H8M0-8V8M-5.7-5.7L5.7 5.7M-5.7 5.7L5.7-5.7"/><circle r="4"/></g>
<g transform="translate(1127.1 1158.3)"><path class="a" d="M-12.8 0H12.8M0-12.8V12.8M-9.1-9.1L9.1 9.1M-9.1 9.1L9.1-9.1"/><path class="b" d="M-8 0H8M0-8V8M-5.7-5.7L5.7 5.7M-5.7 5.7L5.7-5.7"/><circle r="4"/></g>
<g transform="translate(1127.8 1161.0)"><path class="a" d="M-12.8 0H12.8M0-12.8V12.8M-9.1-9.1L9.1 9.1M-9.1 9.1L9.1-9.1"/><path class="b" d="M-8 0H8M0-8V8M-5.7-5.7L5.7 5.7M-5.7 5.7L5.7-5.7"/><circle r="4"/></g>
<g transform="translate(1128.5 1164.5)"><path class="a" d="M-12.8 0H12.8M0-12.8V12.8M-9.1-9.1L9.1 9.1M-9.1 9.1L9.1-9.1"/><path class="b" d="M-8 0H8M0-8V8M-5.7-5.7L5.7 5.7M-5.7 5.7L5.7-5.7"/><circle r="4"/></g>
<g transform="translate(1126.5 1155.5)"><path class="a" d="M-12.8 0H12.8M0-12.8V12.8M-9.1-9.1L9.1 9.1M-9.1 9.1L9.1-9.1"/><path class="b" d="M-8 0H8M0-8V8M-5.7-5.7L5.7 5.7M-5.7 5.7L5.7-5.7"/><circle r="4"/></g>
<g transform="translate(1130.5 1200.5)"><path class="a" d="M-12.8 0H12.8M0-12.8V12.8M-9.1-9.1L9.1 9.1M-9.1 9.1L9.1-9.1"/><path class="b" d="M-8 0H8M0-8V8M-5.7-5.7L5.7 5.7M-5.7 5.7L5.7-5.7"/><circle r="4"/></g>
<g transform="translate(1131.8 1202.0)"><path class="a" d="M-12.8 0H12.8M0-12.8V12.8M-9.1-9.1L9.1 9.1M-9.1 9.1L9.1-9.1"/><path class="b" d="M-8 0H8M0-8V8M-5.7-5.7L5.7 5.7M-5.7 5.7L5.7-5.7"/><circle r="4"/></g>
<g transform="translate(1133.0 1203.5)"><path class="a" d="M-12.8 0H12.8M0-12.8V12.8M-9.1-9.1L9.1 9.1M-9.1 9.1L9.1-9.1"/><path class="b" d="M-8 0H8M0-8V8M-5.7-5.7L5.7 5.7M-5.7 5.7L5.7-5.7"/><circle r="4"/></g>
<g transform="translate(1134.3 1205.0)"><path class="a" d="M-12.8 0H12.8M0-12.8V12.8M-9.1-9.1L9.1 9.1M-9.1 9.1L9.1-9.1"/><path class="b" d="M-8 0H8M0-8V8M-5.7-5.7L5.7 5.7M-5.7 5.7L5.7-5.7"/><circle r="4"/></g>
<g transform="translate(1135.6 1206.5)"><path class="a" d="M-12.8 0H12.8M0-12.8V12.8M-9.1-9.1L9.1 9.1M-9.1 9.1L9.1-9.1"/><path class="b" d="M-8 0H8M0-8V8M-5.7-5.7L5.7 5.7M-5.7 5.7L5.7-5.7"/><circle r="4"/></g>
<g transform="translate(1136.9 1208.0)"><path class="a" d="M-12.8 0H12.8M0-12.8V12.8M-9.1-9.1L9.1 9.1M-9.1 9.1L9.1-9.1"/><path class="b" d="M-8 0H8M0-8V8M-5.7-5.7L5.7 5.7M-5.7 5.7L5.7-5.7"/><circle r="4"/></g>
<g transform="translate(1138.1 1209.5)"><path class="a" d="M-12.8 0H12.8M0-12.8V12.8M-9.1-9.1L9.1 9.1M-9.1 9.1L9.1-9.1"/><path class="b" d="M-8 0H8M0-8V8M-5.7-5.7L5.7 5.7M-5.7 5.7L5.7-5.7"/><circle r="4"/></g>
<g transform="translate(1139.4 1211.0)"><path class="a" d="M-12.8 0H12.8M0-12.8V12.8M-9.1-9.1L9.1 9.1M-9.1 9.1L9.1-9.1"/><path class="b" d="M-8 0H8M0-8V8M-5.7-5.7L5.7 5.7M-5.7 5.7L5.7-5.7"/><circle r="4"/></g>
<g transform="translate(1140.7 1212.5)"><path class="a" d="M-12.8 0H12.8M0-12.8V12.8M-9.1-9.1L9.1 9.1M-9.1 9.1L9.1-9.1"/><path class="b" d="M-8 0H8M0-8V8M-5.7-5.7L5.7 5.7M-5.7 5.7L5.7-5.7"/><circle r="4"/></g>
<g transform="translate(1141.9 1214.0)"><path class="a" d="M-12.8 0H12.8M0-12.8V12.8M-9.1-9.1L9.1 9.1M-9.1 9.1L9.1-9.1"/><path class="b" d="M-8 0H8M0-8V8M-5.7-5.7L5.7 5.7M-5.7 5.7L5.7-5.7"/><circle r="4"/></g>
<g transform="translate(1143.2 1215.5)"><path class="a" d="M-12.8 0H12.8M0-12.8V12.8M-9.1-9.1L9.1 9.1M-9.1 9.1L9.1-9.1"/><path class="b" d="M-8 0H8M0-8V8M-5.7-5.7L5.7 5.7M-5.7 5.7L5.7-5.7"/><circle r="4"/></g>
<g transform="translate(1144.5 1217.0)"><path class="a" d="M-12.8 0H12.8M0-12.8V12.8M-9.1-9.1L9.1 9.1M-9.1 9.1L9.1-9.1"/><path class="b" d="M-8 0H8M0-8V8M-5.7-5.7L5.7 5.7M-5.7 5.7L5.7-5.7"/><circle r="4"/></g>
<g transform="translate(1145.8 1218.5)"><path class="a" d="M-12.8 0H12.8M0-12.8V12.8M-9.1-9.1L9.1 9.1M-9.1 9.1L9.1-9.1"/><path class="b" d="M-8 0H8M0-8V8M-5.7-5.7L5.7 5.7M-5.7 5.7L5.7-5.7"/><circle r="4"/></g>
<g transform="translate(1147.0 1220.0)"><path class="a" d="M-12.8 0H12.8M0-12.8V12.8M-9.1-9.1L9.1 9.1M-9.1 9.1L9.1-9.1"/><path class="b" d="M-8 0H8M0-8V8M-5.7-5.7L5.7 5.7M-5.7 5.7L5.7-5.7"/><circle r="4"/></g>
<g transform="translate(1148.3 1221.5)"><path class="a" d="M-12.8 0H12.8M0-12.8V12.8M-9.1-9.1L9.1 9.1M-9.1 9.1L9.1-9.1"/><path class="b" d="M-8 0H8M0-8V8M-5.7-5.7L5.7 5.7M-5.7 5.7L5.7-5.7"/><circle r="4"/></g>
<g transform="translate(1149.6 1223.0)"><path class="a" d="M-12.8 0H12.8M0-12.8V12.8M-9.1-9.1L9.1 9.1M-9.1 9.1L9.1-9.1"/><path class="b" d="M-8 0H8M0-8V8M-5.7-5.7L5.7 5.7M-5.7 5.7L5.7-5.7"/><circle r="4"/></g>
<g transform="translate(1150.8 1224.5)"><path class="a" d="M-12.8 0H12.8M0-12.8V12.8M-9.1-9.1L9.1 9.1M-9.1 9.1L9.1-9.1"/><path class="b" d="M-8 0H8M0-8V8M-5.7-5.7L5.7 5.7M-5.7 5.7L5.7-5.7"/><circle r="4"/></g>
<g transform="translate(1152.1 1226.0)"><path class="a" d="M-12.8 0H12.8M0-12.8V12.8M-9.1-9.1L9.1 9.1M-9.1 9.1L9.1-9.1"/><path class="b" d="M-8 0H8M0-8V8M-5.7-5.7L5.7 5.7M-5.7 5.7L5.7-5.7"/><circle r="4"/></g>
<g transform="translate(1153.4 1227.5)"><path class="a" d="M-12.8 0H12.8M0-12.8V12.8M-9.1-9.1L9.1 9.1M-9.1 9.1L9.1-9.1"/><path class="b" d="M-8 0H8M0-8V8M-5.7-5.7L5.7 5.7M-5.7 5.7L5.7-5.7"/><circle r="4"/></g>
<g transform="translate(1154.6 1229.0)"><path class="a" d="M-12.8 0H12.8M0-12.8V12.8M-9.1-9.1L9.1 9.1M-9.1 9.1L9.1-9.1"/><path class="b" d="M-8 0H8M0-8V8M-5.7-5.7L5.7 5.7M-5.7 5.7L5.7-5.7"/><circle r="4"/></g>
<g transform="translate(1155.9 1230.5)"><path class="a" d="M-12.8 0H12.8M0-12.8V12.8M-9.1-9.1L9.1 9.1M-9.1 9.1L9.1-9.1"/><path class="b" d="M-8 0H8M0-8V8M-5.7-5.7L5.7 5.7M-5.7 5.7L5.7-5.7"/><circle r="4"/></g>
<g transform="translate(1157.2 1232.0)"><path class="a" d="M-12.8 0H12.8M0-12.8V12.8M-9.1-9.1L9.1 9.1M-9.1 9.1L9.1-9.1"/><path class="b" d="M-8 0H8M0-8V8M-5.7-5.7L5.7 5.7M-5.7 5.7L5.7-5.7"/><circle r="4"/></g>
<g transform="translate(1158.5 1233.5)"><path class="a" d="M-12.8 0H12.8M0-12.8V12.8M-9.1-9.1L9.1 9.1M-9.1 9.1L9.1-9.1"/><path class="b" d="M-8 0H8M0-8V8M-5.7-5.7L5.7 5.7M-5.7 5.7L5.7-5.7"/><circle r="4"/></g>
<g transform="translate(1159.7 1235.0)"><path class="a" d="M-12.8 0H12.8M0-12.8V12.8M-9.1-9.1L9.1 9.1M-9.1 9.1L9.1-9.1"/><path class="b" d="M-8 0H8M0-8V8M-5.7-5.7L5.7 5.7M-5.7 5.7L5.7-5.7"/><circle r="4"/></g>
<g transform="translate(1161.0 1236.5)"><path class="a" d="M-12.8 0H12.8M0-12.8V12.8M-9.1-9.1L9.1 9.1M-9.1 9.1L9.1-9.1"/><path class="b" d="M-8 0H8M0-8V8M-5.7-5.7L5.7 5.7M-5.7 5.7L5.7-5.7"/><circle r="4"/></g>
<g transform="translate(1208.3 1290.0)"><path class="a" d="M-12.8 0H12.8M0-12.8V12.8M-9.1-9.1L9.1 9.1M-9.1 9.1L9.1-9.1"/><path class="b" d="M-8 0H8M0-8V8M-5.7-5.7L5.7 5.7M-5.7 5.7L5.7-5.7"/><circle r="4"/></g>
<g transform="translate(1246.5 1289.5)"><path class="a" d="M-12.8 0H12.8M0-12.8V12.8M-9.1-9.1L9.1 9.1M-9.1 9.1L9.1-9.1"/><path class="b" d="M-8 0H8M0-8V8M-5.7-5.7L5.7 5.7M-5.7 5.7L5.7-5.7"/><circle r="4"/></g>
<g transform="translate(1247.7 1291.1)"><path class="a" d="M-12.8 0H12.8M0-12.8V12.8M-9.1-9.1L9.1 9.1M-9.1 9.1L9.1-9.1"/><path class="b" d="M-8 0H8M0-8V8M-5.7-5.7L5.7 5.7M-5.7 5.7L5.7-5.7"/><circle r="4"/></g>
<g transform="translate(1249.0 1292.6)"><path class="a" d="M-12.8 0H12.8M0-12.8V12.8M-9.1-9.1L9.1 9.1M-9.1 9.1L9.1-9.1"/><path class="b" d="M-8 0H8M0-8V8M-5.7-5.7L5.7 5.7M-5.7 5.7L5.7-5.7"/><circle r="4"/></g>
<g transform="translate(1250.2 1294.2)"><path class="a" d="M-12.8 0H12.8M0-12.8V12.8M-9.1-9.1L9.1 9.1M-9.1 9.1L9.1-9.1"/><path class="b" d="M-8 0H8M0-8V8M-5.7-5.7L5.7 5.7M-5.7 5.7L5.7-5.7"/><circle r="4"/></g>
<g transform="translate(1251.4 1295.7)"><path class="a" d="M-12.8 0H12.8M0-12.8V12.8M-9.1-9.1L9.1 9.1M-9.1 9.1L9.1-9.1"/><path class="b" d="M-8 0H8M0-8V8M-5.7-5.7L5.7 5.7M-5.7 5.7L5.7-5.7"/><circle r="4"/></g>
<g transform="translate(1252.7 1297.3)"><path class="a" d="M-12.8 0H12.8M0-12.8V12.8M-9.1-9.1L9.1 9.1M-9.1 9.1L9.1-9.1"/><path class="b" d="M-8 0H8M0-8V8M-5.7-5.7L5.7 5.7M-5.7 5.7L5.7-5.7"/><circle r="4"/></g>
<g transform="translate(1253.9 1298.8)"><path class="a" d="M-12.8 0H12.8M0-12.8V12.8M-9.1-9.1L9.1 9.1M-9.1 9.1L9.1-9.1"/><path class="b" d="M-8 0H8M0-8V8M-5.7-5.7L5.7 5.7M-5.7 5.7L5.7-5.7"/><circle r="4"/></g>
<g transform="translate(1255.1 1300.4)"><path class="a" d="M-12.8 0H12.8M0-12.8V12.8M-9.1-9.1L9.1 9.1M-9.1 9.1L9.1-9.1"/><path class="b" d="M-8 0H8M0-8V8M-5.7-5.7L5.7 5.7M-5.7 5.7L5.7-5.7"/><circle r="4"/></g>
<g transform="translate(1256.4 1301.9)"><path class="a" d="M-12.8 0H12.8M0-12.8V12.8M-9.1-9.1L9.1 9.1M-9.1 9.1L9.1-9.1"/><path class="b" d="M-8 0H8M0-8V8M-5.7-5.7L5.7 5.7M-5.7 5.7L5.7-5.7"/><circle r="4"/></g>
<g transform="translate(1257.6 1303.5)"><path class="a" d="M-12.8 0H12.8M0-12.8V12.8M-9.1-9.1L9.1 9.1M-9.1 9.1L9.1-9.1"/><path class="b" d="M-8 0H8M0-8V8M-5.7-5.7L5.7 5.7M-5.7 5.7L5.7-5.7"/><circle r="4"/></g>
<g transform="translate(1258.8 1305.0)"><path class="a" d="M-12.8 0H12.8M0-12.8V12.8M-9.1-9.1L9.1 9.1M-9.1 9.1L9.1-9.1"/><path class="b" d="M-8 0H8M0-8V8M-5.7-5.7L5.7 5.7M-5.7 5.7L5.7-5.7"/><circle r="4"/></g>
<g transform="translate(1260.1 1306.6)"><path class="a" d="M-12.8 0H12.8M0-12.8V12.8M-9.1-9.1L9.1 9.1M-9.1 9.1L9.1-9.1"/><path class="b" d="M-8 0H8M0-8V8M-5.7-5.7L5.7 5.7M-5.7 5.7L5.7-5.7"/><circle r="4"/></g>
<g transform="translate(1261.3 1308.1)"><path class="a" d="M-12.8 0H12.8M0-12.8V12.8M-9.1-9.1L9.1 9.1M-9.1 9.1L9.1-9.1"/><path class="b" d="M-8 0H8M0-8V8M-5.7-5.7L5.7 5.7M-5.7 5.7L5.7-5.7"/><circle r="4"/></g>
<g transform="translate(1262.5 1309.7)"><path class="a" d="M-12.8 0H12.8M0-12.8V12.8M-9.1-9.1L9.1 9.1M-9.1 9.1L9.1-9.1"/><path class="b" d="M-8 0H8M0-8V8M-5.7-5.7L5.7 5.7M-5.7 5.7L5.7-5.7"/><circle r="4"/></g>
<g transform="translate(1263.8 1311.2)"><path class="a" d="M-12.8 0H12.8M0-12.8V12.8M-9.1-9.1L9.1 9.1M-9.1 9.1L9.1-9.1"/><path class="b" d="M-8 0H8M0-8V8M-5.7-5.7L5.7 5.7M-5.7 5.7L5.7-5.7"/><circle r="4"/></g>
<g transform="translate(1265.0 1312.8)"><path class="a" d="M-12.8 0H12.8M0-12.8V12.8M-9.1-9.1L9.1 9.1M-9.1 9.1L9.1-9.1"/><path class="b" d="M-8 0H8M0-8V8M-5.7-5.7L5.7 5.7M-5.7 5.7L5.7-5.7"/><circle r="4"/></g>
<g transform="translate(1266.2 1314.4)"><path class="a" d="M-12.8 0H12.8M0-12.8V12.8M-9.1-9.1L9.1 9.1M-9.1 9.1L9.1-9.1"/><path class="b" d="M-8 0H8M0-8V8M-5.7-5.7L5.7 5.7M-5.7 5.7L5.7-5.7"/><circle r="4"/></g>
<g transform="translate(1267.4 1315.9)"><path class="a" d="M-12.8 0H12.8M0-12.8V12.8M-9.1-9.1L9.1 9.1M-9.1 9.1L9.1-9.1"/><path class="b" d="M-8 0H8M0-8V8M-5.7-5.7L5.7 5.7M-5.7 5.7L5.7-5.7"/><circle r="4"/></g>
<g transform="translate(1268.7 1317.5)"><path class="a" d="M-12.8 0H12.8M0-12.8V12.8M-9.1-9.1L9.1 9.1M-9.1 9.1L9.1-9.1"/><path class="b" d="M-8 0H8M0-8V8M-5.7-5.7L5.7 5.7M-5.7 5.7L5.7-5.7"/><circle r="4"/></g>
<g transform="translate(1269.9 1319.0)"><path class="a" d="M-12.8 0H12.8M0-12.8V12.8M-9.1-9.1L9.1 9.1M-9.1 9.1L9.1-9.1"/><path class="b" d="M-8 0H8M0-8V8M-5.7-5.7L5.7 5.7M-5.7 5.7L5.7-5.7"/><circle r="4"/></g>
<g transform="translate(1271.1 1320.6)"><path class="a" d="M-12.8 0H12.8M0-12.8V12.8M-9.1-9.1L9.1 9.1M-9.1 9.1L9.1-9.1"/><path class="b" d="M-8 0H8M0-8V8M-5.7-5.7L5.7 5.7M-5.7 5.7L5.7-5.7"/><circle r="4"/></g>
<g transform="translate(1272.4 1322.1)"><path class="a" d="M-12.8 0H12.8M0-12.8V12.8M-9.1-9.1L9.1 9.1M-9.1 9.1L9.1-9.1"/><path class="b" d="M-8 0H8M0-8V8M-5.7-5.7L5.7 5.7M-5.7 5.7L5.7-5.7"/><circle r="4"/></g>
<g transform="translate(1273.6 1323.7)"><path class="a" d="M-12.8 0H12.8M0-12.8V12.8M-9.1-9.1L9.1 9.1M-9.1 9.1L9.1-9.1"/><path class="b" d="M-8 0H8M0-8V8M-5.7-5.7L5.7 5.7M-5.7 5.7L5.7-5.7"/><circle r="4"/></g>
<g transform="translate(1274.8 1325.2)"><path class="a" d="M-12.8 0H12.8M0-12.8V12.8M-9.1-9.1L9.1 9.1M-9.1 9.1L9.1-9.1"/><path class="b" d="M-8 0H8M0-8V8M-5.7-5.7L5.7 5.7M-5.7 5.7L5.7-5.7"/><circle r="4"/></g>
<g transform="translate(1276.1 1326.8)"><path class="a" d="M-12.8 0H12.8M0-12.8V12.8M-9.1-9.1L9.1 9.1M-9.1 9.1L9.1-9.1"/><path class="b" d="M-8 0H8M0-8V8M-5.7-5.7L5.7 5.7M-5.7 5.7L5.7-5.7"/><circle r="4"/></g>
<g transform="translate(1277.3 1328.3)"><path class="a" d="M-12.8 0H12.8M0-12.8V12.8M-9.1-9.1L9.1 9.1M-9.1 9.1L9.1-9.1"/><path class="b" d="M-8 0H8M0-8V8M-5.7-5.7L5.7 5.7M-5.7 5.7L5.7-5.7"/><circle r="4"/></g>
<g transform="translate(1278.5 1329.9)"><path class="a" d="M-12.8 0H12.8M0-12.8V12.8M-9.1-9.1L9.1 9.1M-9.1 9.1L9.1-9.1"/><path class="b" d="M-8 0H8M0-8V8M-5.7-5.7L5.7 5.7M-5.7 5.7L5.7-5.7"/><circle r="4"/></g>
<g transform="translate(1279.8 1331.4)"><path class="a" d="M-12.8 0H12.8M0-12.8V12.8M-9.1-9.1L9.1 9.1M-9.1 9.1L9.1-9.1"/><path class="b" d="M-8 0H8M0-8V8M-5.7-5.7L5.7 5.7M-5.7 5.7L5.7-5.7"/><circle r="4"/></g>
<g transform="translate(1281.0 1333.0)"><path class="a" d="M-12.8 0H12.8M0-12.8V12.8M-9.1-9.1L9.1 9.1M-9.1 9.1L9.1-9.1"/><path class="b" d="M-8 0H8M0-8V8M-5.7-5.7L5.7 5.7M-5.7 5.7L5.7-5.7"/><circle r="4"/></g>
<g transform="translate(1284.0 1337.5)"><path class="a" d="M-12.8 0H12.8M0-12.8V12.8M-9.1-9.1L9.1 9.1M-9.1 9.1L9.1-9.1"/><path class="b" d="M-8 0H8M0-8V8M-5.7-5.7L5.7 5.7M-5.7 5.7L5.7-5.7"/><circle r="4"/></g>
<g transform="translate(1286.7 1341.3)"><path class="a" d="M-12.8 0H12.8M0-12.8V12.8M-9.1-9.1L9.1 9.1M-9.1 9.1L9.1-9.1"/><path class="b" d="M-8 0H8M0-8V8M-5.7-5.7L5.7 5.7M-5.7 5.7L5.7-5.7"/><circle r="4"/></g>
<g transform="translate(1289.4 1345.1)"><path class="a" d="M-12.8 0H12.8M0-12.8V12.8M-9.1-9.1L9.1 9.1M-9.1 9.1L9.1-9.1"/><path class="b" d="M-8 0H8M0-8V8M-5.7-5.7L5.7 5.7M-5.7 5.7L5.7-5.7"/><circle r="4"/></g>
<g transform="translate(1292.1 1348.9)"><path class="a" d="M-12.8 0H12.8M0-12.8V12.8M-9.1-9.1L9.1 9.1M-9.1 9.1L9.1-9.1"/><path class="b" d="M-8 0H8M0-8V8M-5.7-5.7L5.7 5.7M-5.7 5.7L5.7-5.7"/><circle r="4"/></g>
<g transform="translate(1294.9 1352.6)"><path class="a" d="M-12.8 0H12.8M0-12.8V12.8M-9.1-9.1L9.1 9.1M-9.1 9.1L9.1-9.1"/><path class="b" d="M-8 0H8M0-8V8M-5.7-5.7L5.7 5.7M-5.7 5.7L5.7-5.7"/><circle r="4"/></g>
<g transform="translate(1297.6 1356.4)"><path class="a" d="M-12.8 0H12.8M0-12.8V12.8M-9.1-9.1L9.1 9.1M-9.1 9.1L9.1-9.1"/><path class="b" d="M-8 0H8M0-8V8M-5.7-5.7L5.7 5.7M-5.7 5.7L5.7-5.7"/><circle r="4"/></g>
<g transform="translate(1300.3 1360.2)"><path class="a" d="M-12.8 0H12.8M0-12.8V12.8M-9.1-9.1L9.1 9.1M-9.1 9.1L9.1-9.1"/><path class="b" d="M-8 0H8M0-8V8M-5.7-5.7L5.7 5.7M-5.7 5.7L5.7-5.7"/><circle r="4"/></g>
<g transform="translate(1303.0 1364.0)"><path class="a" d="M-12.8 0H12.8M0-12.8V12.8M-9.1-9.1L9.1 9.1M-9.1 9.1L9.1-9.1"/><path class="b" d="M-8 0H8M0-8V8M-5.7-5.7L5.7 5.7M-5.7 5.7L5.7-5.7"/><circle r="4"/></g>
<g transform="translate(1323.3 1375.5)"><path class="a" d="M-12.8 0H12.8M0-12.8V12.8M-9.1-9.1L9.1 9.1M-9.1 9.1L9.1-9.1"/><path class="b" d="M-8 0H8M0-8V8M-5.7-5.7L5.7 5.7M-5.7 5.7L5.7-5.7"/><circle r="4"/></g>
<g transform="translate(1339.0 1394.5)"><path class="a" d="M-12.8 0H12.8M0-12.8V12.8M-9.1-9.1L9.1 9.1M-9.1 9.1L9.1-9.1"/><path class="b" d="M-8 0H8M0-8V8M-5.7-5.7L5.7 5.7M-5.7 5.7L5.7-5.7"/><circle r="4"/></g>
<g transform="translate(1340.8 1395.7)"><path class="a" d="M-12.8 0H12.8M0-12.8V12.8M-9.1-9.1L9.1 9.1M-9.1 9.1L9.1-9.1"/><path class="b" d="M-8 0H8M0-8V8M-5.7-5.7L5.7 5.7M-5.7 5.7L5.7-5.7"/><circle r="4"/></g>
<g transform="translate(1342.6 1396.9)"><path class="a" d="M-12.8 0H12.8M0-12.8V12.8M-9.1-9.1L9.1 9.1M-9.1 9.1L9.1-9.1"/><path class="b" d="M-8 0H8M0-8V8M-5.7-5.7L5.7 5.7M-5.7 5.7L5.7-5.7"/><circle r="4"/></g>
<g transform="translate(1344.3 1398.2)"><path class="a" d="M-12.8 0H12.8M0-12.8V12.8M-9.1-9.1L9.1 9.1M-9.1 9.1L9.1-9.1"/><path class="b" d="M-8 0H8M0-8V8M-5.7-5.7L5.7 5.7M-5.7 5.7L5.7-5.7"/><circle r="4"/></g>
<g transform="translate(1346.1 1399.4)"><path class="a" d="M-12.8 0H12.8M0-12.8V12.8M-9.1-9.1L9.1 9.1M-9.1 9.1L9.1-9.1"/><path class="b" d="M-8 0H8M0-8V8M-5.7-5.7L5.7 5.7M-5.7 5.7L5.7-5.7"/><circle r="4"/></g>
<g transform="translate(1347.9 1400.6)"><path class="a" d="M-12.8 0H12.8M0-12.8V12.8M-9.1-9.1L9.1 9.1M-9.1 9.1L9.1-9.1"/><path class="b" d="M-8 0H8M0-8V8M-5.7-5.7L5.7 5.7M-5.7 5.7L5.7-5.7"/><circle r="4"/></g>
<g transform="translate(1349.7 1401.8)"><path class="a" d="M-12.8 0H12.8M0-12.8V12.8M-9.1-9.1L9.1 9.1M-9.1 9.1L9.1-9.1"/><path class="b" d="M-8 0H8M0-8V8M-5.7-5.7L5.7 5.7M-5.7 5.7L5.7-5.7"/><circle r="4"/></g>
<g transform="translate(1351.5 1403.0)"><path class="a" d="M-12.8 0H12.8M0-12.8V12.8M-9.1-9.1L9.1 9.1M-9.1 9.1L9.1-9.1"/><path class="b" d="M-8 0H8M0-8V8M-5.7-5.7L5.7 5.7M-5.7 5.7L5.7-5.7"/><circle r="4"/></g>
<g transform="translate(1353.2 1404.2)"><path class="a" d="M-12.8 0H12.8M0-12.8V12.8M-9.1-9.1L9.1 9.1M-9.1 9.1L9.1-9.1"/><path class="b" d="M-8 0H8M0-8V8M-5.7-5.7L5.7 5.7M-5.7 5.7L5.7-5.7"/><circle r="4"/></g>
<g transform="translate(1355.0 1405.5)"><path class="a" d="M-12.8 0H12.8M0-12.8V12.8M-9.1-9.1L9.1 9.1M-9.1 9.1L9.1-9.1"/><path class="b" d="M-8 0H8M0-8V8M-5.7-5.7L5.7 5.7M-5.7 5.7L5.7-5.7"/><circle r="4"/></g>
<g transform="translate(1356.8 1406.7)"><path class="a" d="M-12.8 0H12.8M0-12.8V12.8M-9.1-9.1L9.1 9.1M-9.1 9.1L9.1-9.1"/><path class="b" d="M-8 0H8M0-8V8M-5.7-5.7L5.7 5.7M-5.7 5.7L5.7-5.7"/><circle r="4"/></g>
<g transform="translate(1358.6 1407.9)"><path class="a" d="M-12.8 0H12.8M0-12.8V12.8M-9.1-9.1L9.1 9.1M-9.1 9.1L9.1-9.1"/><path class="b" d="M-8 0H8M0-8V8M-5.7-5.7L5.7 5.7M-5.7 5.7L5.7-5.7"/><circle r="4"/></g>
<g transform="translate(1360.4 1409.1)"><path class="a" d="M-12.8 0H12.8M0-12.8V12.8M-9.1-9.1L9.1 9.1M-9.1 9.1L9.1-9.1"/><path class="b" d="M-8 0H8M0-8V8M-5.7-5.7L5.7 5.7M-5.7 5.7L5.7-5.7"/><circle r="4"/></g>
<g transform="translate(1362.2 1410.3)"><path class="a" d="M-12.8 0H12.8M0-12.8V12.8M-9.1-9.1L9.1 9.1M-9.1 9.1L9.1-9.1"/><path class="b" d="M-8 0H8M0-8V8M-5.7-5.7L5.7 5.7M-5.7 5.7L5.7-5.7"/><circle r="4"/></g>
<g transform="translate(1363.9 1411.6)"><path class="a" d="M-12.8 0H12.8M0-12.8V12.8M-9.1-9.1L9.1 9.1M-9.1 9.1L9.1-9.1"/><path class="b" d="M-8 0H8M0-8V8M-5.7-5.7L5.7 5.7M-5.7 5.7L5.7-5.7"/><circle r="4"/></g>
<g transform="translate(1365.7 1412.8)"><path class="a" d="M-12.8 0H12.8M0-12.8V12.8M-9.1-9.1L9.1 9.1M-9.1 9.1L9.1-9.1"/><path class="b" d="M-8 0H8M0-8V8M-5.7-5.7L5.7 5.7M-5.7 5.7L5.7-5.7"/><circle r="4"/></g>
<g transform="translate(1367.5 1414.0)"><path class="a" d="M-12.8 0H12.8M0-12.8V12.8M-9.1-9.1L9.1 9.1M-9.1 9.1L9.1-9.1"/><path class="b" d="M-8 0H8M0-8V8M-5.7-5.7L5.7 5.7M-5.7 5.7L5.7-5.7"/><circle r="4"/></g>
<g transform="translate(1370.5 1417.5)"><path class="a" d="M-12.8 0H12.8M0-12.8V12.8M-9.1-9.1L9.1 9.1M-9.1 9.1L9.1-9.1"/><path class="b" d="M-8 0H8M0-8V8M-5.7-5.7L5.7 5.7M-5.7 5.7L5.7-5.7"/><circle r="4"/></g>
<g transform="translate(1373.8 1421.5)"><path class="a" d="M-12.8 0H12.8M0-12.8V12.8M-9.1-9.1L9.1 9.1M-9.1 9.1L9.1-9.1"/><path class="b" d="M-8 0H8M0-8V8M-5.7-5.7L5.7 5.7M-5.7 5.7L5.7-5.7"/><circle r="4"/></g>
<g transform="translate(1377.0 1425.5)"><path class="a" d="M-12.8 0H12.8M0-12.8V12.8M-9.1-9.1L9.1 9.1M-9.1 9.1L9.1-9.1"/><path class="b" d="M-8 0H8M0-8V8M-5.7-5.7L5.7 5.7M-5.7 5.7L5.7-5.7"/><circle r="4"/></g>
<g transform="translate(1420.5 1430.0)"><path class="a" d="M-12.8 0H12.8M0-12.8V12.8M-9.1-9.1L9.1 9.1M-9.1 9.1L9.1-9.1"/><path class="b" d="M-8 0H8M0-8V8M-5.7-5.7L5.7 5.7M-5.7 5.7L5.7-5.7"/><circle r="4"/></g>
<g transform="translate(1424.5 1435.5)"><path class="a" d="M-12.8 0H12.8M0-12.8V12.8M-9.1-9.1L9.1 9.1M-9.1 9.1L9.1-9.1"/><path class="b" d="M-8 0H8M0-8V8M-5.7-5.7L5.7 5.7M-5.7 5.7L5.7-5.7"/><circle r="4"/></g>
<g transform="translate(1428.5 1440.5)"><path class="a" d="M-12.8 0H12.8M0-12.8V12.8M-9.1-9.1L9.1 9.1M-9.1 9.1L9.1-9.1"/><path class="b" d="M-8 0H8M0-8V8M-5.7-5.7L5.7 5.7M-5.7 5.7L5.7-5.7"/><circle r="4"/></g>
<g transform="translate(1430.2 1441.9)"><path class="a" d="M-12.8 0H12.8M0-12.8V12.8M-9.1-9.1L9.1 9.1M-9.1 9.1L9.1-9.1"/><path class="b" d="M-8 0H8M0-8V8M-5.7-5.7L5.7 5.7M-5.7 5.7L5.7-5.7"/><circle r="4"/></g>
<g transform="translate(1431.9 1443.2)"><path class="a" d="M-12.8 0H12.8M0-12.8V12.8M-9.1-9.1L9.1 9.1M-9.1 9.1L9.1-9.1"/><path class="b" d="M-8 0H8M0-8V8M-5.7-5.7L5.7 5.7M-5.7 5.7L5.7-5.7"/><circle r="4"/></g>
<g transform="translate(1433.6 1444.6)"><path class="a" d="M-12.8 0H12.8M0-12.8V12.8M-9.1-9.1L9.1 9.1M-9.1 9.1L9.1-9.1"/><path class="b" d="M-8 0H8M0-8V8M-5.7-5.7L5.7 5.7M-5.7 5.7L5.7-5.7"/><circle r="4"/></g>
<g transform="translate(1435.3 1445.9)"><path class="a" d="M-12.8 0H12.8M0-12.8V12.8M-9.1-9.1L9.1 9.1M-9.1 9.1L9.1-9.1"/><path class="b" d="M-8 0H8M0-8V8M-5.7-5.7L5.7 5.7M-5.7 5.7L5.7-5.7"/><circle r="4"/></g>
<g transform="translate(1437.1 1447.3)"><path class="a" d="M-12.8 0H12.8M0-12.8V12.8M-9.1-9.1L9.1 9.1M-9.1 9.1L9.1-9.1"/><path class="b" d="M-8 0H8M0-8V8M-5.7-5.7L5.7 5.7M-5.7 5.7L5.7-5.7"/><circle r="4"/></g>
<g transform="translate(1438.8 1448.6)"><path class="a" d="M-12.8 0H12.8M0-12.8V12.8M-9.1-9.1L9.1 9.1M-9.1 9.1L9.1-9.1"/><path class="b" d="M-8 0H8M0-8V8M-5.7-5.7L5.7 5.7M-5.7 5.7L5.7-5.7"/><circle r="4"/></g>
<g transform="translate(1440.5 1450.0)"><path class="a" d="M-12.8 0H12.8M0-12.8V12.8M-9.1-9.1L9.1 9.1M-9.1 9.1L9.1-9.1"/><path class="b" d="M-8 0H8M0-8V8M-5.7-5.7L5.7 5.7M-5.7 5.7L5.7-5.7"/><circle r="4"/></g>
<g transform="translate(1442.2 1451.3)"><path class="a" d="M-12.8 0H12.8M0-12.8V12.8M-9.1-9.1L9.1 9.1M-9.1 9.1L9.1-9.1"/><path class="b" d="M-8 0H8M0-8V8M-5.7-5.7L5.7 5.7M-5.7 5.7L5.7-5.7"/><circle r="4"/></g>
<g transform="translate(1443.9 1452.7)"><path class="a" d="M-12.8 0H12.8M0-12.8V12.8M-9.1-9.1L9.1 9.1M-9.1 9.1L9.1-9.1"/><path class="b" d="M-8 0H8M0-8V8M-5.7-5.7L5.7 5.7M-5.7 5.7L5.7-5.7"/><circle r="4"/></g>
<g transform="translate(1445.6 1454.0)"><path class="a" d="M-12.8 0H12.8M0-12.8V12.8M-9.1-9.1L9.1 9.1M-9.1 9.1L9.1-9.1"/><path class="b" d="M-8 0H8M0-8V8M-5.7-5.7L5.7 5.7M-5.7 5.7L5.7-5.7"/><circle r="4"/></g>
<g transform="translate(1447.3 1455.4)"><path class="a" d="M-12.8 0H12.8M0-12.8V12.8M-9.1-9.1L9.1 9.1M-9.1 9.1L9.1-9.1"/><path class="b" d="M-8 0H8M0-8V8M-5.7-5.7L5.7 5.7M-5.7 5.7L5.7-5.7"/><circle r="4"/></g>
<g transform="translate(1449.0 1456.7)"><path class="a" d="M-12.8 0H12.8M0-12.8V12.8M-9.1-9.1L9.1 9.1M-9.1 9.1L9.1-9.1"/><path class="b" d="M-8 0H8M0-8V8M-5.7-5.7L5.7 5.7M-5.7 5.7L5.7-5.7"/><circle r="4"/></g>
<g transform="translate(1450.7 1458.1)"><path class="a" d="M-12.8 0H12.8M0-12.8V12.8M-9.1-9.1L9.1 9.1M-9.1 9.1L9.1-9.1"/><path class="b" d="M-8 0H8M0-8V8M-5.7-5.7L5.7 5.7M-5.7 5.7L5.7-5.7"/><circle r="4"/></g>
<g transform="translate(1452.4 1459.4)"><path class="a" d="M-12.8 0H12.8M0-12.8V12.8M-9.1-9.1L9.1 9.1M-9.1 9.1L9.1-9.1"/><path class="b" d="M-8 0H8M0-8V8M-5.7-5.7L5.7 5.7M-5.7 5.7L5.7-5.7"/><circle r="4"/></g>
<g transform="translate(1454.2 1460.8)"><path class="a" d="M-12.8 0H12.8M0-12.8V12.8M-9.1-9.1L9.1 9.1M-9.1 9.1L9.1-9.1"/><path class="b" d="M-8 0H8M0-8V8M-5.7-5.7L5.7 5.7M-5.7 5.7L5.7-5.7"/><circle r="4"/></g>
<g transform="translate(1455.9 1462.1)"><path class="a" d="M-12.8 0H12.8M0-12.8V12.8M-9.1-9.1L9.1 9.1M-9.1 9.1L9.1-9.1"/><path class="b" d="M-8 0H8M0-8V8M-5.7-5.7L5.7 5.7M-5.7 5.7L5.7-5.7"/><circle r="4"/></g>
<g transform="translate(1457.6 1463.5)"><path class="a" d="M-12.8 0H12.8M0-12.8V12.8M-9.1-9.1L9.1 9.1M-9.1 9.1L9.1-9.1"/><path class="b" d="M-8 0H8M0-8V8M-5.7-5.7L5.7 5.7M-5.7 5.7L5.7-5.7"/><circle r="4"/></g>
<g transform="translate(1459.3 1464.8)"><path class="a" d="M-12.8 0H12.8M0-12.8V12.8M-9.1-9.1L9.1 9.1M-9.1 9.1L9.1-9.1"/><path class="b" d="M-8 0H8M0-8V8M-5.7-5.7L5.7 5.7M-5.7 5.7L5.7-5.7"/><circle r="4"/></g>
<g transform="translate(1461.0 1466.2)"><path class="a" d="M-12.8 0H12.8M0-12.8V12.8M-9.1-9.1L9.1 9.1M-9.1 9.1L9.1-9.1"/><path class="b" d="M-8 0H8M0-8V8M-5.7-5.7L5.7 5.7M-5.7 5.7L5.7-5.7"/><circle r="4"/></g>
<g transform="translate(1481.7 1480.1)"><path class="a" d="M-12.8 0H12.8M0-12.8V12.8M-9.1-9.1L9.1 9.1M-9.1 9.1L9.1-9.1"/><path class="b" d="M-8 0H8M0-8V8M-5.7-5.7L5.7 5.7M-5.7 5.7L5.7-5.7"/><circle r="4"/></g>
</g>
<g fill="none" stroke-linejoin="miter">
<path d="M231.6 34.5H2294.9V1565.3H231.6Z" stroke="#9a9a9a" stroke-width="7"/>
<path d="M458.7 1565.3V1527.3M458.7 34.5V72.5M988.0 1565.3V1527.3M988.0 34.5V72.5M1521.2 1565.3V1527.3M1521.2 34.5V72.5M2046.2 1565.3V1527.3M2046.2 34.5V72.5M231.6 224.9H294.0M231.6 418.1H294.0M231.6 608.3H294.0M231.6 803.9H294.0M231.6 999.3H294.0M231.6 1192.6H294.0M231.6 1385.5H294.0" stroke="#9a9a9a" stroke-width="6.4"/>
<path d="M231.6 34.5H2294.9V1565.3H231.6Z" stroke="#000" stroke-width="3.4"/>
<path d="M458.7 1565.3V1527.3M458.7 34.5V72.5M988.0 1565.3V1527.3M988.0 34.5V72.5M1521.2 1565.3V1527.3M1521.2 34.5V72.5M2046.2 1565.3V1527.3M2046.2 34.5V72.5M231.6 224.9H294.0M231.6 418.1H294.0M231.6 608.3H294.0M231.6 803.9H294.0M231.6 999.3H294.0M231.6 1192.6H294.0M231.6 1385.5H294.0" stroke="#000" stroke-width="3.6"/>
</g>
<rect x="2000" y="23.2" width="5.4" height="4.5" fill="#2a2a2a"/>
<path d="M2012.9 1654.1H2016.2V1651.3H2020.8V1656.3H2018.6V1661.8H2012.9Z" fill="#4a4a4a"/>
<g class="tick" text-anchor="middle">
<text x="456.3" y="1627">3</text>
<text x="985.8" y="1627">3.5</text>
<text x="1518.5" y="1627">4</text>
<text x="2048.5" y="1627">4.5</text>
</g>
<g class="tick" text-anchor="end">
<text x="211.5" y="239.0">60</text>
<text x="211.5" y="432.6">55</text>
<text x="211.5" y="625.8">50</text>
<text x="211.5" y="820.3">45</text>
<text x="211.5" y="1014.0">40</text>
<text x="211.5" y="1206.7">35</text>
<text x="211.5" y="1400.3">30</text>
</g>
<text class="ax" x="1232" y="1688.3" font-size="73.75">f</text>
<text class="sub" transform="translate(1254 1703.8) scale(1.366 1)" font-size="49.5">1</text>
<g transform="translate(81.6 768.9) rotate(-90)"><text class="ax" font-size="76.5">f</text><text class="sub" x="26.9" y="16.1" font-size="52.6">2</text></g>
<text class="ast" x="1686.4" y="272.5" fill="#ff560c">*****</text>
<text class="leg" transform="translate(1887.2 257.7) scale(1.035 1)">NSGA-II</text>
<text class="ast" x="1686.4" y="367.4" fill="#007ed0">*****</text>
<text class="leg" transform="translate(1886.0 353.0) scale(1.0286 1)">INSGA-II</text>
</svg>
</body>
</html>
